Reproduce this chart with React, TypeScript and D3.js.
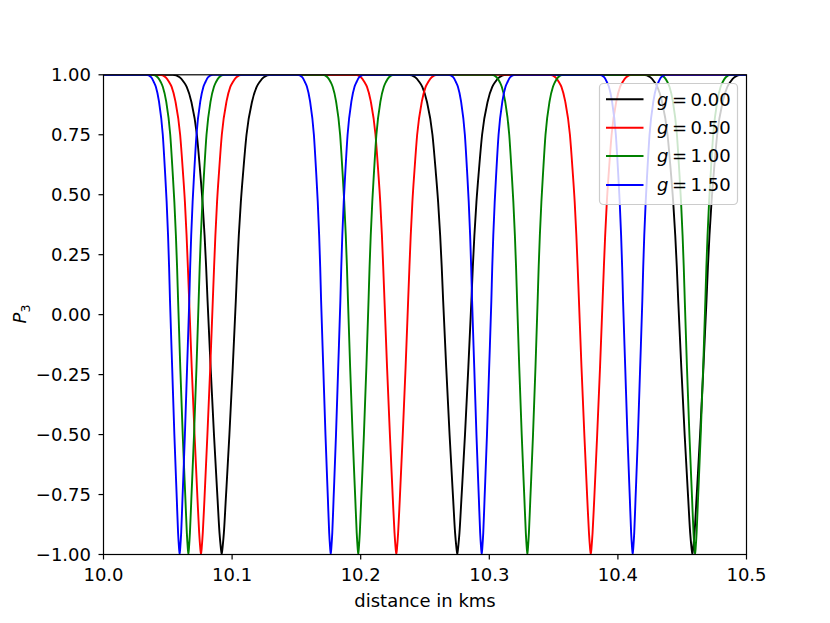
import React from "react";
import * as d3 from "d3";

// ---------- data ----------
const X_TICKS = [10.0, 10.1, 10.2, 10.3, 10.4, 10.5];
const Y_TICKS = [-1.0, -0.75, -0.5, -0.25, 0.0, 0.25, 0.5, 0.75, 1.0];

// P3 levels at which the half-width of each dip was read
const LEVELS = [1, 0.99, 0.97, 0.95, 0.89, 0.75, 0.6, 0.47, 0.33, 0.2, 0.06, -0.22, -0.5, -0.77, -0.91, -0.97, -1];

// dip centres (distance in kms) per series
const blackCenters = [10.0919, 10.2751, 10.4579];
const redCenters = [10.0758, 10.2277, 10.3789];
const greenCenters = [10.066, 10.1981, 10.3296, 10.46];
const blueCenters = [10.0592, 10.1767, 10.2941, 10.4115];

// half-widths (kms) of a dip at each level
const blackHalfWidths = [0.0381, 0.0327, 0.0295, 0.0272, 0.0237, 0.0193, 0.0168, 0.0149, 0.0133, 0.0121, 0.011, 0.0086, 0.006, 0.0032, 0.0017, 0.0007, 0];
const redHalfWidths = [0.032, 0.0275, 0.0248, 0.0228, 0.0199, 0.0162, 0.0141, 0.0125, 0.0112, 0.0102, 0.0092, 0.0072, 0.005, 0.0027, 0.0014, 0.0006, 0];
const greenHalfWidths = [0.0278, 0.0239, 0.0215, 0.0199, 0.0173, 0.0141, 0.0123, 0.0109, 0.0097, 0.0088, 0.008, 0.0063, 0.0044, 0.0023, 0.0012, 0.0005, 0];
const blueHalfWidths = [0.0259, 0.0222, 0.0201, 0.0185, 0.0161, 0.0131, 0.0114, 0.0101, 0.009, 0.0082, 0.0075, 0.0058, 0.0041, 0.0022, 0.0012, 0.0005, 0];

const SERIES_LABELS = ["0.00", "0.50", "1.00", "1.50"];
const SERIES_COLORS = ["#000000", "#ff0000", "#008000", "#0000ff"];

const X_DOMAIN: [number, number] = [10.0, 10.5];
const Y_DOMAIN: [number, number] = [-1, 1];

// ---------- layout ----------
const W = 830;
const H = 623;
const M = { left: 103.5, right: 746.5, top: 74.8, bottom: 554.5 };
const FONT = "DejaVu Sans, sans-serif";
const FS = 18;

function buildPoints(centers: number[], hw: number[]): [number, number][] {
  const pts: [number, number][] = [[X_DOMAIN[0], 1]];
  centers.forEach((c) => {
    LEVELS.forEach((lv, i) => pts.push([c - hw[i], lv]));
    for (let i = LEVELS.length - 2; i >= 0; i--) pts.push([c + hw[i], LEVELS[i]]);
  });
  pts.push([X_DOMAIN[1], 1]);
  return pts;
}

export default function App() {
  const x = d3.scaleLinear().domain(X_DOMAIN).range([M.left, M.right]);
  const y = d3.scaleLinear().domain(Y_DOMAIN).range([M.bottom, M.top]);
  const line = d3
    .line<[number, number]>()
    .x((d) => x(d[0]))
    .y((d) => y(d[1]))
    .curve(d3.curveMonotoneX);

  const series = [
    buildPoints(blackCenters, blackHalfWidths),
    buildPoints(redCenters, redHalfWidths),
    buildPoints(greenCenters, greenHalfWidths),
    buildPoints(blueCenters, blueHalfWidths),
  ];

  const fmtY = (v: number) => (v < 0 ? "\u2212" : "") + Math.abs(v).toFixed(2);
  const fmtX = (v: number) => v.toFixed(1);

  const legend = { x0: 599.5, y0: 83.5, w: 138, h: 121, rows: [99.3, 127.7, 156, 185] };

  return (
    <svg
      width={W}
      height={H}
      style={{ position: "absolute", left: 0, top: 0, background: "#fff" }}
      fontFamily={FONT}
    >
      <defs>
        <clipPath id="plot">
          <rect x={M.left} y={M.top} width={M.right - M.left} height={M.bottom - M.top} />
        </clipPath>
      </defs>
      <rect x={0} y={0} width={W} height={H} fill="#fff" />

      <g clipPath="url(#plot)">
        {series.map((pts, i) => (
          <path key={i} d={line(pts) || ""} fill="none" stroke={SERIES_COLORS[i]} strokeWidth={1.9} />
        ))}
      </g>

      {/* spines */}
      <rect
        x={M.left}
        y={M.top}
        width={M.right - M.left}
        height={M.bottom - M.top}
        fill="none"
        stroke="#000"
        strokeWidth={1.2}
      />

      {/* x ticks */}
      {X_TICKS.map((t) => (
        <g key={"x" + t}>
          <line x1={x(t)} x2={x(t)} y1={M.bottom} y2={M.bottom + 5} stroke="#000" strokeWidth={1.2} />
          <text x={x(t)} y={580.8} fontSize={FS} textAnchor="middle" fill="#000">
            {fmtX(t)}
          </text>
        </g>
      ))}
      {/* y ticks */}
      {Y_TICKS.map((t) => (
        <g key={"y" + t}>
          <line x1={M.left - 5} x2={M.left} y1={y(t)} y2={y(t)} stroke="#000" strokeWidth={1.2} />
          <text x={91} y={y(t)} dy="0.36em" fontSize={FS} textAnchor="end" fill="#000">
            {fmtY(t)}
          </text>
        </g>
      ))}

      {/* axis labels */}
      <text x={(M.left + M.right) / 2} y={606.5} fontSize={FS} textAnchor="middle" fill="#000">
        distance in kms
      </text>
      <text transform={`translate(25.5,314) rotate(-90)`} fontSize={FS} textAnchor="middle" fill="#000">
        <tspan fontStyle="italic">P</tspan>
        <tspan fontSize={FS * 0.7} dy={4}>3</tspan>
      </text>

      {/* legend */}
      <rect
        x={legend.x0}
        y={legend.y0}
        width={legend.w}
        height={legend.h}
        rx={4}
        ry={4}
        fill="#fff"
        fillOpacity={0.8}
        stroke="#cccccc"
        strokeWidth={1.2}
      />
      {SERIES_LABELS.map((lab, i) => (
        <g key={"l" + i}>
          <line
            x1={606}
            x2={643.5}
            y1={legend.rows[i]}
            y2={legend.rows[i]}
            stroke={SERIES_COLORS[i]}
            strokeWidth={1.9}
          />
          <text x={657} y={legend.rows[i]} dy="0.36em" fontSize={FS} fill="#000">
            <tspan fontStyle="italic">g</tspan>
            <tspan dx={3.5}>=</tspan>
            <tspan dx={3.5}>{lab}</tspan>
          </text>
        </g>
      ))}
    </svg>
  );
}
